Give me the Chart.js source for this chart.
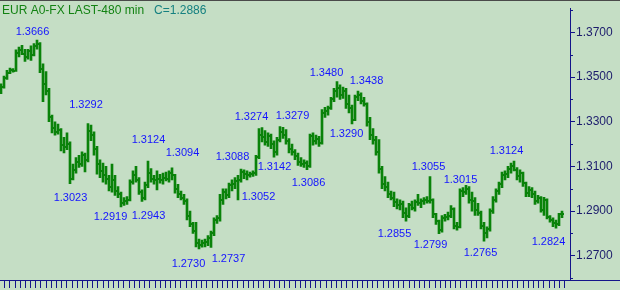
<!DOCTYPE html>
<html><head><meta charset="utf-8">
<script src="https://cdn.jsdelivr.net/npm/chart.js@4"></script>
<style>html,body{margin:0;padding:0;background:#c5dec5;overflow:hidden}canvas{display:block}</style>
</head><body>
<canvas id="c" width="620" height="290"></canvas>
<script>
const titleText = 'EUR A0-FX LAST-480 min';
const opens = [1.3430,1.3455,1.3495,1.3520,1.3530,1.3527,1.3610,1.3620,1.3605,1.3590,1.3615,1.3600,1.3640,1.3650,1.3535,1.3470,1.3440,1.3320,1.3270,1.3255,
1.3262,1.3195,1.3185,1.3200,1.3045,1.3085,1.3120,1.3110,1.3150,1.3130,1.3260,1.3240,1.3180,1.3110,1.3080,1.3060,1.3045,1.3010,1.3040,1.2990,
1.2975,1.2935,1.2945,1.2950,1.3030,1.3060,1.3040,1.2985,1.2960,1.3015,1.3070,1.3045,1.3040,1.3045,1.3040,1.3050,1.3045,1.3070,1.3060,1.3000,
1.2975,1.2960,1.2945,1.2880,1.2840,1.2810,1.2755,1.2750,1.2755,1.2760,1.2780,1.2800,1.2860,1.2870,1.2950,1.2985,1.2970,1.3015,1.3020,1.3035,
1.3040,1.3075,1.3065,1.3060,1.3065,1.3070,1.3140,1.3240,1.3230,1.3210,1.3235,1.3200,1.3165,1.3220,1.3255,1.3240,1.3215,1.3180,1.3165,1.3145,
1.3120,1.3110,1.3115,1.3100,1.3235,1.3215,1.3225,1.3205,1.3340,1.3350,1.3360,1.3400,1.3440,1.3450,1.3420,1.3440,1.3380,1.3360,1.3310,1.3410,
1.3420,1.3395,1.3380,1.3300,1.3240,1.3220,1.3165,1.3090,1.3020,1.3010,1.2975,1.2960,1.2940,1.2925,1.2930,1.2890,1.2880,1.2925,1.2915,1.2940,
1.2935,1.2945,1.2950,1.2945,1.2950,1.2885,1.2855,1.2815,1.2870,1.2875,1.2880,1.2910,1.2835,1.2830,1.2990,1.2985,1.3000,1.2950,1.2945,1.2905,
1.2890,1.2835,1.2800,1.2820,1.2900,1.2950,1.2990,1.3020,1.3060,1.3065,1.3090,1.3100,1.3085,1.3055,1.3070,1.3025,1.2980,1.2995,1.2975,1.2945,
1.2960,1.2905,1.2950,1.2875,1.2860,1.2845,1.2840,1.2886];
const highs = [1.3470,1.3505,1.3530,1.3540,1.3538,1.3622,1.3635,1.3642,1.3625,1.3625,1.3640,1.3650,1.3666,1.3655,1.3560,1.3525,1.3450,1.3330,1.3300,1.3290,
1.3270,1.3230,1.3250,1.3210,1.3110,1.3140,1.3150,1.3165,1.3160,1.3292,1.3285,1.3255,1.3190,1.3130,1.3115,1.3100,1.3060,1.3110,1.3060,1.3010,
1.2985,1.2960,1.2965,1.3040,1.3080,1.3100,1.3050,1.2995,1.3030,1.3124,1.3090,1.3060,1.3080,1.3065,1.3070,1.3075,1.3080,1.3094,1.3065,1.3020,
1.2990,1.2975,1.2955,1.2900,1.2850,1.2850,1.2775,1.2770,1.2775,1.2790,1.2810,1.2870,1.2880,1.2975,1.3000,1.3000,1.3025,1.3040,1.3050,1.3060,
1.3088,1.3085,1.3080,1.3075,1.3080,1.3150,1.3270,1.3274,1.3260,1.3250,1.3245,1.3215,1.3230,1.3279,1.3275,1.3265,1.3225,1.3200,1.3175,1.3160,
1.3140,1.3130,1.3125,1.3245,1.3250,1.3240,1.3235,1.3355,1.3365,1.3370,1.3410,1.3450,1.3480,1.3465,1.3455,1.3450,1.3420,1.3375,1.3420,1.3438,
1.3430,1.3410,1.3385,1.3320,1.3270,1.3235,1.3220,1.3100,1.3055,1.3030,1.2990,1.2985,1.2955,1.2950,1.2945,1.2915,1.2935,1.2945,1.2950,1.2975,
1.2955,1.2960,1.2965,1.3055,1.2955,1.2890,1.2860,1.2880,1.2885,1.2895,1.2925,1.2915,1.2850,1.3000,1.3005,1.3015,1.3010,1.2985,1.2960,1.2935,
1.2900,1.2850,1.2830,1.2910,1.2965,1.3000,1.3030,1.3075,1.3080,1.3100,1.3115,1.3124,1.3095,1.3085,1.3075,1.3030,1.3010,1.3005,1.2990,1.2970,
1.2965,1.2962,1.2955,1.2880,1.2870,1.2860,1.2890,1.2900];
const lows = [1.3426,1.3450,1.3490,1.3515,1.3522,1.3525,1.3590,1.3600,1.3570,1.3580,1.3575,1.3595,1.3625,1.3520,1.3390,1.3420,1.3300,1.3250,1.3240,1.3245,
1.3170,1.3160,1.3175,1.3023,1.3040,1.3070,1.3095,1.3100,1.3075,1.3120,1.3215,1.3150,1.3065,1.3050,1.3030,1.3020,1.2990,1.2985,1.2970,1.2960,
1.2919,1.2925,1.2930,1.2945,1.3020,1.3030,1.2975,1.2943,1.2950,1.3005,1.3030,1.3020,1.2995,1.3025,1.3020,1.3035,1.3030,1.3040,1.2980,1.2960,
1.2950,1.2930,1.2860,1.2830,1.2800,1.2740,1.2730,1.2738,1.2740,1.2745,1.2737,1.2790,1.2845,1.2855,1.2930,1.2955,1.2960,1.2990,1.3000,1.2950,
1.3030,1.3045,1.3040,1.3052,1.3055,1.3060,1.3135,1.3210,1.3195,1.3190,1.3180,1.3142,1.3150,1.3210,1.3225,1.3200,1.3160,1.3150,1.3130,1.3105,
1.3100,1.3095,1.3086,1.3095,1.3195,1.3200,1.3190,1.3200,1.3320,1.3330,1.3355,1.3390,1.3410,1.3400,1.3405,1.3360,1.3340,1.3290,1.3305,1.3395,
1.3380,1.3370,1.3280,1.3220,1.3200,1.3150,1.3070,1.3000,1.2990,1.2960,1.2950,1.2920,1.2910,1.2905,1.2870,1.2855,1.2870,1.2905,1.2900,1.2925,
1.2915,1.2930,1.2935,1.2935,1.2870,1.2840,1.2799,1.2805,1.2855,1.2860,1.2870,1.2820,1.2815,1.2825,1.2965,1.2975,1.2935,1.2900,1.2880,1.2880,
1.2820,1.2765,1.2780,1.2810,1.2890,1.2940,1.2975,1.3005,1.3040,1.3050,1.3070,1.3080,1.3040,1.3030,1.3010,1.2965,1.2965,1.2960,1.2930,1.2935,
1.2895,1.2880,1.2865,1.2850,1.2830,1.2824,1.2835,1.2870];
const closes = [1.3455,1.3495,1.3520,1.3530,1.3527,1.3610,1.3620,1.3605,1.3590,1.3615,1.3600,1.3640,1.3650,1.3535,1.3470,1.3440,1.3320,1.3270,1.3255,1.3262,
1.3195,1.3185,1.3200,1.3045,1.3085,1.3120,1.3110,1.3150,1.3130,1.3260,1.3240,1.3180,1.3110,1.3080,1.3060,1.3045,1.3010,1.3040,1.2990,1.2975,
1.2935,1.2945,1.2950,1.3030,1.3060,1.3040,1.2985,1.2960,1.3015,1.3070,1.3045,1.3040,1.3045,1.3040,1.3050,1.3045,1.3070,1.3060,1.3000,1.2975,
1.2960,1.2945,1.2880,1.2840,1.2810,1.2755,1.2750,1.2755,1.2760,1.2780,1.2800,1.2860,1.2870,1.2950,1.2985,1.2970,1.3015,1.3020,1.3035,1.3040,
1.3075,1.3065,1.3060,1.3065,1.3070,1.3140,1.3240,1.3230,1.3210,1.3235,1.3200,1.3165,1.3220,1.3255,1.3240,1.3215,1.3180,1.3165,1.3145,1.3120,
1.3110,1.3115,1.3100,1.3235,1.3215,1.3225,1.3205,1.3340,1.3350,1.3360,1.3400,1.3440,1.3450,1.3420,1.3440,1.3380,1.3360,1.3310,1.3410,1.3420,
1.3395,1.3380,1.3300,1.3240,1.3220,1.3165,1.3090,1.3020,1.3010,1.2975,1.2960,1.2940,1.2925,1.2930,1.2890,1.2880,1.2925,1.2915,1.2940,1.2935,
1.2945,1.2950,1.2945,1.2950,1.2885,1.2855,1.2815,1.2870,1.2875,1.2880,1.2910,1.2835,1.2830,1.2990,1.2985,1.3000,1.2950,1.2945,1.2905,1.2890,
1.2835,1.2800,1.2820,1.2900,1.2950,1.2990,1.3020,1.3060,1.3065,1.3090,1.3100,1.3085,1.3055,1.3070,1.3025,1.2980,1.2995,1.2975,1.2945,1.2960,
1.2905,1.2950,1.2875,1.2860,1.2845,1.2840,1.2886,1.2886];
const yMajorTicks = [1.27,1.29,1.31,1.33,1.35,1.37];
const yMinorTicks = [1.26,1.28,1.30,1.32,1.34,1.36,1.38];
const labelIdx = [12,29,49,57,87,93,112,119,117,23,40,47,80,91,102,83,66,70,143,155,171,135,146,161,185];
const labelVal = [1.3666,1.3292,1.3124,1.3094,1.3274,1.3279,1.3480,1.3438,1.3290,1.3023,1.2919,1.2943,1.3088,1.3142,1.3086,1.3052,1.2730,1.2737,1.3055,1.3015,1.3124,1.2855,1.2799,1.2765,1.2824];

// text placement offsets (px) relative to the marked extreme
const labelOffsets = [[-4.5,-9],[-2,-20],[0.5,-22],[10.5,-16],[-10.5,-12],[12.5,-11],[-10.5,-9.6],[8.5,-11],[-5.5,9],[0.5,13],[-10.5,9.5],[6.5,13],[-8.5,-13],[0.5,9],[1.5,12],[8.5,19],[-10.5,14],[17.5,10.5],[-1.5,-11],[-5.5,-6.5],[-7.5,-11.5],[-11.5,11.5],[-8.5,10.5],[-3.5,11],[-7.5,12.5]];

const BG='#c5dec5', BAR='#0a820a', AXIS='#14148a', AXTXT='#1c1c6c', LBL='#1414ff';
const FONT='"Liberation Sans", Arial, sans-serif';

const hl = highs.map((h,i)=>({x:i, y:[lows[i], h]}));

const bgPlugin = {id:'bg', beforeDraw(c){const ctx=c.ctx;ctx.save();ctx.fillStyle=BG;ctx.fillRect(0,0,c.width,c.height);ctx.restore();}};
const ohlcPlugin = {id:'ohlc', afterDatasetsDraw(c){
  const xs=c.scales.x, ys=c.scales.y, ctx=c.ctx; ctx.save(); ctx.fillStyle=BAR;
  for(let i=0;i<opens.length;i++){
    const px=Math.round(xs.getPixelForValue(i));
    const po=Math.round(ys.getPixelForValue(opens[i]));
    const pc=Math.round(ys.getPixelForValue(closes[i]));
    ctx.fillRect(px-2, po-1, 1, 2);
    ctx.fillRect(px+1, pc-1, 1, 2);
  }
  ctx.restore();
}};
const decoPlugin = {id:'deco', afterDraw(c){
  const ctx=c.ctx, ys=c.scales.y, xs=c.scales.x, a=c.chartArea; ctx.save();
  ctx.fillStyle=AXIS;
  yMinorTicks.forEach(v=>{const p=ys.getPixelForValue(v); if(p>=a.top && p<=a.bottom) ctx.fillRect(Math.round(a.right), Math.round(p), 3, 1);});
  ctx.fillRect(Math.round(a.right), Math.round(a.bottom), c.width-a.right, 1);
  ctx.fillStyle='#4a4a4a'; ctx.fillRect(0,0,c.width,1);
  ctx.font='11px '+FONT; ctx.fillStyle=LBL; ctx.textAlign='center'; ctx.textBaseline='middle';
  labelIdx.forEach((idx,k)=>{
    const px=xs.getPixelForValue(idx)+labelOffsets[k][0];
    const py=ys.getPixelForValue(labelVal[k])+labelOffsets[k][1];
    ctx.fillText(labelVal[k].toFixed(4), px, py+1);
  });
  ctx.font='12px '+FONT; ctx.textAlign='left'; ctx.textBaseline='alphabetic';
  ctx.fillStyle='#128212'; ctx.fillText(titleText, 2, 14);
  const w=ctx.measureText(titleText+'   ').width;
  ctx.fillStyle='#158080'; ctx.fillText('C='+closes[closes.length-1].toFixed(4), 2+w, 14);
  ctx.restore();
}};

new Chart(document.getElementById('c'), {
  type:'bar',
  data:{datasets:[{data:hl, backgroundColor:BAR, borderWidth:0, barThickness:2, xAxisID:'x', yAxisID:'y'}]},
  options:{
    responsive:false, animation:false, devicePixelRatio:1, events:[],
    layout:{padding:{top:0,left:0,right:0,bottom:2}},
    plugins:{legend:{display:false}, tooltip:{enabled:false}},
    scales:{
      x:{type:'linear', display:false, min:-1/3, max:190-1/3, offset:false},
      xt:{type:'linear', position:'bottom', min:-0.4, max:109.53, offset:false,
          ticks:{display:false, stepSize:1},
          afterBuildTicks(s){s.ticks=s.ticks.filter(t=>t.value>=0 && t.value<=108);},
          afterFit(s){s.height=8;},
          grid:{drawOnChartArea:false, tickLength:8, tickColor:AXIS},
          border:{color:AXIS, width:1}},
      y:{type:'linear', position:'right', min:1.25913, max:1.38087,
          afterBuildTicks(s){s.ticks=yMajorTicks.map(v=>({value:v}));},
          afterFit(s){s.width=50;},
          grid:{drawOnChartArea:false, tickLength:5, tickColor:AXIS},
          border:{color:AXIS, width:1},
          ticks:{color:AXTXT, padding:1, font:{family:FONT, size:12}, callback:v=>Number(v).toFixed(4)}}
    }
  },
  plugins:[bgPlugin, ohlcPlugin, decoPlugin]
});
</script>
</body></html>
